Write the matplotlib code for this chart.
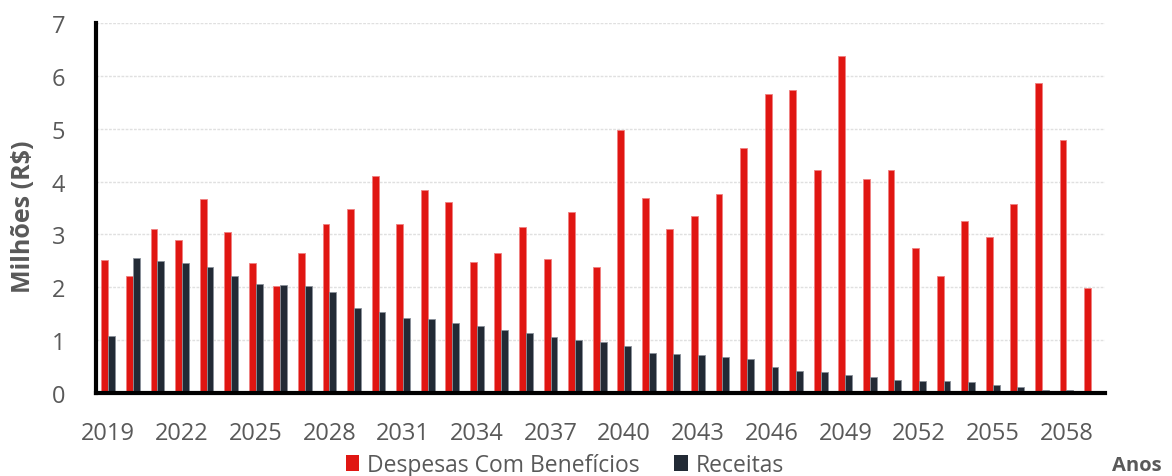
import matplotlib
matplotlib.use("Agg")
import matplotlib.pyplot as plt
import numpy as np

years = list(range(2019, 2060))
despesas = [2.51, 2.22, 3.11, 2.90, 3.67, 3.04, 2.46, 2.02, 2.64, 3.19, 3.48, 4.10,
            3.19, 3.84, 3.62, 2.48, 2.65, 3.14, 2.54, 3.42, 2.38, 4.98, 3.68,
            3.10, 3.35, 3.76, 4.64, 5.66, 5.73, 4.22, 6.38, 4.05, 4.22, 2.75,
            2.22, 3.25, 2.95, 3.58, 5.86, 4.78, 1.98]
receitas = [1.07, 2.56, 2.49, 2.46, 2.38, 2.22, 2.07, 2.04, 2.02, 1.91, 1.61, 1.53,
            1.42, 1.40, 1.32, 1.26, 1.19, 1.13, 1.06, 1.00, 0.97, 0.88, 0.76,
            0.74, 0.72, 0.68, 0.64, 0.49, 0.42, 0.40, 0.34, 0.30, 0.25, 0.23,
            0.23, 0.20, 0.15, 0.11, 0.06, 0.05, 0.0]
tick_years = list(range(2019, 2060, 3))
yticks = list(range(0, 8))

plt.rcParams['font.family'] = ['Open Sans', 'DejaVu Sans']

fig = plt.figure(figsize=(11.72, 4.77), dpi=100)
ax = fig.add_axes([96/1172, 1 - 394/477, (1105-96)/1172, (394-24)/477])

x = np.array(years, dtype=float)
w = 0.28
red = '#E01612'
dark = '#222A35'
ax.bar(x - w/2, despesas, width=w, color=red, edgecolor='#F08080', linewidth=0.6, label='Despesas Com Benefícios', zorder=3)
ax.bar(x + w/2, receitas, width=w, color=dark, edgecolor='#8A9099', linewidth=0.6, label='Receitas', zorder=3)

ax.set_xlim(2018.5, 2059.57)
ax.set_ylim(0, 7)
ax.set_yticks(yticks)
ax.set_xticks(tick_years)
ax.set_xticklabels([str(t) for t in tick_years])
ax.tick_params(axis='both', length=0, labelsize=17, colors='#595959')
ax.tick_params(axis='x', pad=20)
ax.tick_params(axis='y', pad=22)

ax.yaxis.grid(True, color='#E0E0E0', linestyle=(0, (2, 1)), linewidth=1, zorder=0)
for s in ['top', 'right']:
    ax.spines[s].set_visible(False)
for s in ['left', 'bottom']:
    ax.spines[s].set_color('black')
    ax.spines[s].set_linewidth(3)
    ax.spines[s].set_zorder(4)

fig.text(24/1172, 1 - 217/477, 'Milhões (R$)', rotation=90, ha='center', va='center',
         fontsize=18, fontweight='bold', color='#595959')
fig.text(1162/1172, 1 - 466/477, 'Anos', ha='right', va='center',
         fontsize=14.5, fontweight='bold', color='#595959')

leg = fig.legend(loc='center', bbox_to_anchor=(565/1172, 1 - 466/477), ncol=2, frameon=False,
                 fontsize=16.5, handlelength=0.6, handleheight=0.75, handletextpad=0.35, columnspacing=1.5)
for t in leg.get_texts():
    t.set_color('#595959')
for h in leg.legend_handles:
    h.set_edgecolor('none')

fig.savefig('out.png', dpi=100)
